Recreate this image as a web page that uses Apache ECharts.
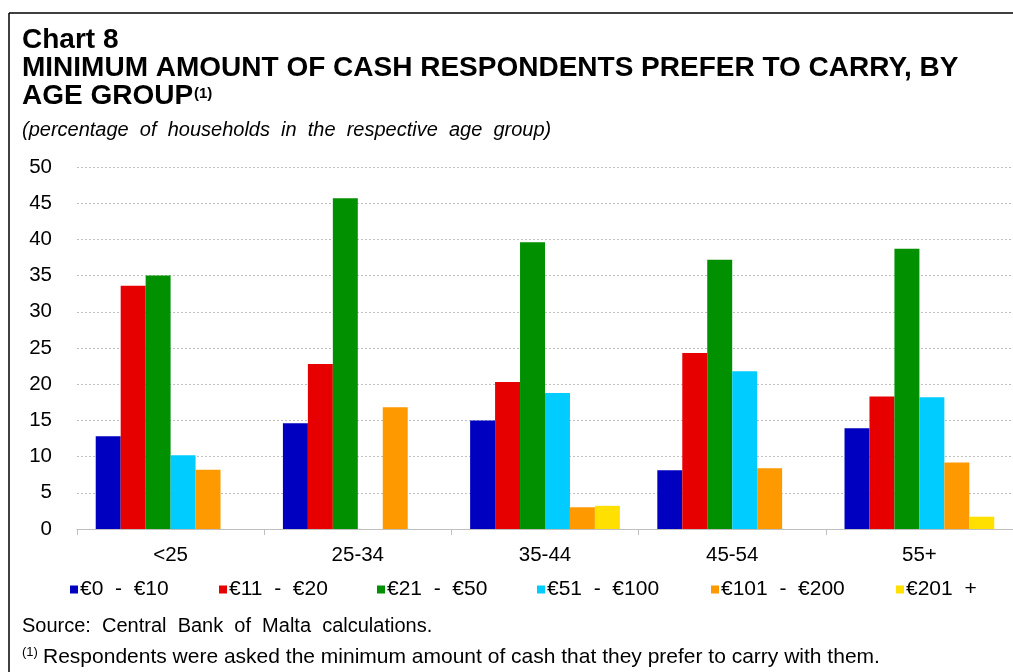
<!DOCTYPE html>
<html>
<head>
<meta charset="utf-8">
<script src="https://cdn.jsdelivr.net/npm/echarts@6/dist/echarts.min.js"></script>
<style>
  html, body { margin: 0; padding: 0; background: #fff; }
  #chart { width: 1013px; height: 672px; }
</style>
</head>
<body>
<div id="chart"></div>
<script>
// age groups on the x axis
var ageGroups = ['<25', '25-34', '35-44', '45-54', '55+'];
// cash bands (legend)
var bands = ['€0  -  €10', '€11  -  €20', '€21  -  €50', '€51  -  €100', '€101  -  €200', '€201  +'];
var bandColors = ['#0000c0', '#e60000', '#009000', '#00ccff', '#ff9900', '#ffe000'];
// % of households, one array per band, in age group order
var band0to10 = [12.8, 14.6, 15.0, 8.1, 13.9];
var band11to20 = [33.6, 22.8, 20.3, 24.3, 18.3];
var band21to50 = [35.0, 45.7, 39.6, 37.2, 38.7];
var band51to100 = [10.2, 0, 18.8, 21.8, 18.2];
var band101to200 = [8.2, 16.8, 3.0, 8.4, 9.2];
var band201plus = [0, 0, 3.2, 0, 1.7];
var yTicks = [0, 50, 5];

var seriesData = [band0to10, band11to20, band21to50, band51to100, band101to200, band201plus];
var font = '"Liberation Sans", Arial, sans-serif';

var myChart = echarts.init(document.getElementById('chart'));

var series = [];
var legends = [];
var legendLeft = [70, 219, 377, 537, 711, 896];
for (var i = 0; i < bands.length; i++) {
    series.push({
        name: bands[i],
        type: 'bar',
        data: seriesData[i],
        barGap: '0%',
        barCategoryGap: '20%',
        itemStyle: { color: bandColors[i] },
        animation: false
    });
    legends.push({
        data: [bands[i]],
        left: legendLeft[i],
        top: 579,
        itemWidth: 8,
        itemHeight: 8,
        itemGap: 0,
        padding: 0,
        icon: 'rect',
        textStyle: { fontFamily: font, fontSize: 21, color: '#000', padding: [0, 0, 0, -3] }
    });
}

var option = {
    backgroundColor: '#fff',
    animation: false,
    title: [
        { text: 'Chart 8', left: 22, top: 26, padding: 0,
          textStyle: { fontFamily: font, fontSize: 28, fontWeight: 'bold', color: '#000' } },
        { text: 'MINIMUM AMOUNT OF CASH RESPONDENTS PREFER TO CARRY, BY', left: 22, top: 54, padding: 0,
          textStyle: { fontFamily: font, fontSize: 28, fontWeight: 'bold', color: '#000' } },
        { text: 'AGE GROUP', left: 22, top: 82, padding: 0,
          textStyle: { fontFamily: font, fontSize: 28, fontWeight: 'bold', color: '#000' } },
        { text: '(1)', left: 194, top: 86, padding: 0,
          textStyle: { fontFamily: font, fontSize: 15, fontWeight: 'bold', color: '#000' } },
        { text: '(percentage  of  households  in  the  respective  age  group)', left: 22, top: 120, padding: 0,
          textStyle: { fontFamily: font, fontSize: 20, fontStyle: 'italic', fontWeight: 'normal', color: '#000' } },
        { text: 'Source:  Central  Bank  of  Malta  calculations.', left: 22, top: 616, padding: 0,
          textStyle: { fontFamily: font, fontSize: 20, fontWeight: 'normal', color: '#000' } },
        { text: '(1)', left: 22, top: 646, padding: 0,
          textStyle: { fontFamily: font, fontSize: 13, fontWeight: 'normal', color: '#000' } },
        { text: 'Respondents were asked the minimum amount of cash that they prefer to carry with them.', left: 43, top: 647, padding: 0,
          textStyle: { fontFamily: font, fontSize: 21, fontWeight: 'normal', color: '#000' } }
    ],
    legend: legends,
    grid: { left: 77, right: 0, top: 167, bottom: 143, containLabel: false },
    xAxis: {
        type: 'category',
        data: ageGroups,
        axisLine: { lineStyle: { color: '#bfbfbf', width: 1 } },
        axisTick: { show: true, length: 6, lineStyle: { color: '#bfbfbf' } },
        axisLabel: { fontFamily: font, fontSize: 20.5, color: '#000', margin: 16 }
    },
    yAxis: {
        type: 'value',
        min: yTicks[0],
        max: yTicks[1],
        interval: yTicks[2],
        axisLine: { show: false },
        axisTick: { show: false },
        axisLabel: { fontFamily: font, fontSize: 20.5, color: '#000', margin: 25 },
        splitLine: { lineStyle: { color: '#bfbfbf', type: [2, 2], width: 1 } }
    },
    graphic: [
        { type: 'line', shape: { x1: 9, y1: 13, x2: 1013, y2: 13 }, style: { stroke: '#000', lineWidth: 1.5 } },
        { type: 'line', shape: { x1: 9, y1: 13, x2: 9, y2: 672 }, style: { stroke: '#000', lineWidth: 1.5 } }
    ],
    series: series
};
myChart.setOption(option);
</script>
</body>
</html>
